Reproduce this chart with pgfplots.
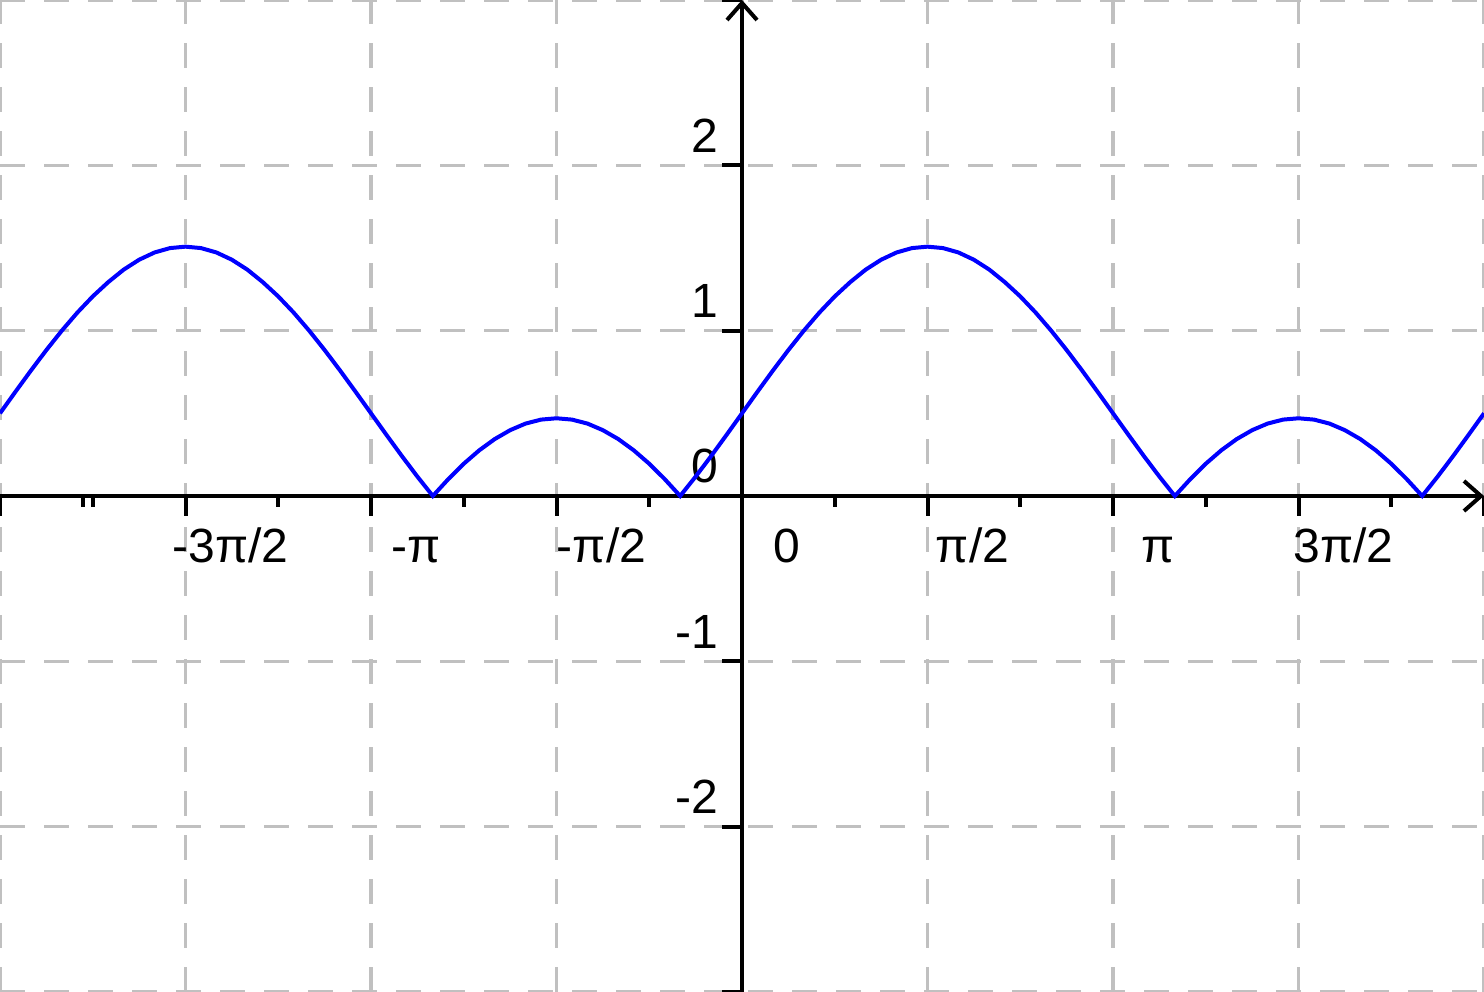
\documentclass[border=0pt]{standalone}
\usepackage{pgfplots}
\pgfplotsset{compat=1.18}
\usepackage{fontspec}
\setmainfont{Liberation Sans}
\usetikzlibrary{arrows.meta}
\definecolor{gridgray}{RGB}{192,192,192}
\definecolor{curveblue}{RGB}{0,0,255}
\begin{document}
\begin{tikzpicture}
\begin{axis}[
  scale only axis,
  width=371pt, height=248pt,
  xmin=-360, xmax=360, ymin=-3, ymax=3,
  axis lines=middle,
  hide obscured x ticks=false,
  hide obscured y ticks=false,
  axis line style={line width=1pt, black},
  x axis line style={-{Straight Barb[length=4.25pt,width=7.5pt,line width=1pt]}},
  y axis line style={-{Straight Barb[length=4.25pt,width=7.5pt,line width=1pt]}},
  xtick={-360,-270,-180,-90,0,90,180,270,360},
  xticklabels={,-3π/2,-π,-π/2,0,π/2,π,3π/2,},
  minor xtick={-319.5,-315,-225,-135,-45,45,135,225,315},
  ytick={-3,-2,-1,0,1,2,3},
  yticklabels={,-2,-1,0,1,2,},
  tick align=outside,
  major tick length=5pt,
  minor tick length=2.75pt,
  every tick/.style={line width=1pt, black},
  grid=major,
  major grid style={line width=0.8pt, gridgray, dash pattern=on 6.25pt off 4.75pt},
  every tick label/.append style={font=\fontsize{12}{14}\selectfont},
  xticklabel style={anchor=base, inner sep=0pt, xshift=11.25pt, yshift=-11.75pt},
  yticklabel style={anchor=base east, inner sep=0pt, xshift=-0.75pt, yshift=3.25pt},
]
\addplot[curveblue, line width=1pt] table[x=t, y=v] {
t v
-360 0.5
-352.5 0.6305
-345 0.7588
-337.5 0.8827
-330 1.0
-322.5 1.1088
-315 1.2071
-307.5 1.2934
-300 1.3690
-292.5 1.4289
-285 1.4729
-277.5 1.4994
-270 1.508
-262.5 1.4994
-255 1.4729
-247.5 1.4289
-240 1.3690
-232.5 1.2934
-225 1.2071
-217.5 1.1088
-210 1.0
-202.5 0.8827
-195 0.7588
-187.5 0.6305
-180 0.5
-172.5 0.3695
-165 0.2412
-157.5 0.1173
-150 0
-142.5 0.102
-135 0.195
-127.5 0.276
-120 0.344
-112.5 0.398
-105 0.438
-97.5 0.462
-90 0.470
-82.5 0.462
-75 0.438
-67.5 0.398
-60 0.344
-52.5 0.276
-45 0.195
-37.5 0.102
-30 0
-22.5 0.1173
-15 0.2412
-7.5 0.3695
0 0.5
7.5 0.6305
15 0.7588
22.5 0.8827
30 1.0
37.5 1.1088
45 1.2071
52.5 1.2934
60 1.3690
67.5 1.4289
75 1.4729
82.5 1.4994
90 1.508
97.5 1.4994
105 1.4729
112.5 1.4289
120 1.3690
127.5 1.2934
135 1.2071
142.5 1.1088
150 1.0
157.5 0.8827
165 0.7588
172.5 0.6305
180 0.5
187.5 0.3695
195 0.2412
202.5 0.1173
210 0
217.5 0.102
225 0.195
232.5 0.276
240 0.344
247.5 0.398
255 0.438
262.5 0.462
270 0.470
277.5 0.462
285 0.438
292.5 0.398
300 0.344
307.5 0.276
315 0.195
322.5 0.102
330 0
337.5 0.1173
345 0.2412
352.5 0.3695
360 0.5
};
\coordinate (bl) at (rel axis cs:0,0);
\coordinate (tr) at (rel axis cs:1,1);
\end{axis}
\pgfresetboundingbox
\useasboundingbox (bl) rectangle (tr);
\end{tikzpicture}
\end{document}
